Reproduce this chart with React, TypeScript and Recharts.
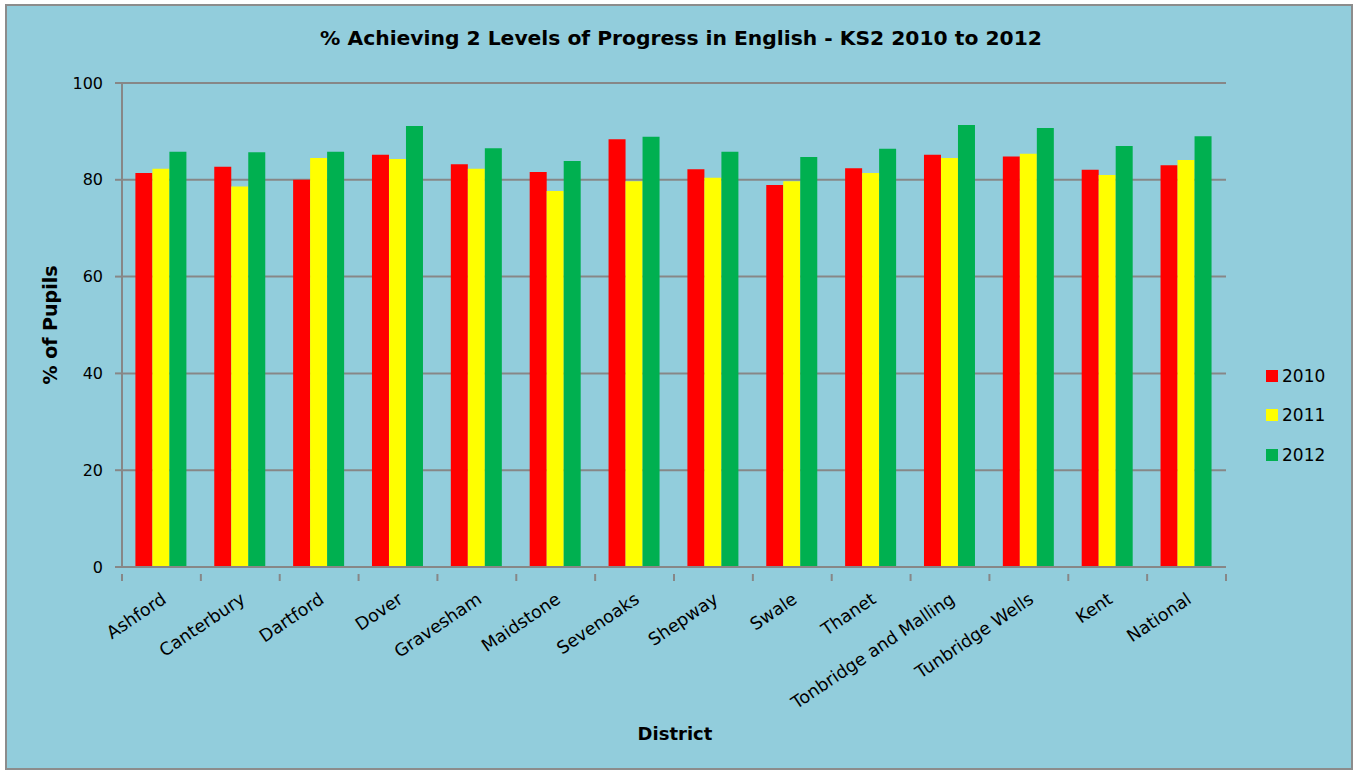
import React from 'react';
import { BarChart, Bar, XAxis, YAxis, CartesianGrid } from 'recharts';

const categories = [
  'Ashford',
  'Canterbury',
  'Dartford',
  'Dover',
  'Gravesham',
  'Maidstone',
  'Sevenoaks',
  'Shepway',
  'Swale',
  'Thanet',
  'Tonbridge and Malling',
  'Tunbridge Wells',
  'Kent',
  'National',
];
const pct2010 = [81.4, 82.7, 80.0, 85.2, 83.2, 81.6, 88.4, 82.2, 78.9, 82.4, 85.2, 84.8, 82.1, 83.0];
const pct2011 = [82.3, 78.6, 84.5, 84.3, 82.3, 77.7, 79.7, 80.4, 79.7, 81.4, 84.5, 85.4, 81.0, 84.1];
const pct2012 = [85.8, 85.7, 85.8, 91.1, 86.5, 83.9, 88.9, 85.8, 84.7, 86.4, 91.3, 90.7, 87.0, 89.0];
const yTicks = [0, 20, 40, 60, 80, 100];

const series = [
  { key: 'y2010', name: '2010', color: '#FF0000' },
  { key: 'y2011', name: '2011', color: '#FFFF00' },
  { key: 'y2012', name: '2012', color: '#00B050' },
];

const data = categories.map((district, i) => ({
  district,
  y2010: pct2010[i],
  y2011: pct2011[i],
  y2012: pct2012[i],
}));

const FONT = '"DejaVu Sans", Verdana, sans-serif';
const GRID = '#878787';

// rotated district name, plus the tick marks that sit between categories
function DistrictTick({ x, y, payload, index, visibleTicksCount }: any) {
  const half = payload.offset || 0;
  const px = x + 6;
  const py = y + 27;
  const isLast = index === visibleTicksCount - 1;
  return (
    <g>
      <line x1={x - half} x2={x - half} y1={y - 1} y2={y + 6} stroke={GRID} strokeWidth={2} />
      {isLast && <line x1={x + half} x2={x + half} y1={y - 1} y2={y + 6} stroke={GRID} strokeWidth={2} />}
      <text
        x={px}
        y={py}
        textAnchor="end"
        fontSize={17.5}
        fontFamily={FONT}
        fill="#000"
        transform={`rotate(-34 ${px} ${py})`}
      >
        {payload.value}
      </text>
    </g>
  );
}

export default function App() {
  return (
    <div style={{ position: 'absolute', left: 0, top: 0, width: 1356, height: 773, background: '#fff' }}>
      <div
        style={{
          position: 'absolute',
          left: 5,
          top: 4,
          width: 1344,
          height: 762,
          background: '#92CDDC',
          border: '2px solid #8c8c8c',
        }}
      />
      <div
        style={{
          position: 'absolute',
          left: 0,
          top: 26,
          width: 1362,
          textAlign: 'center',
          fontFamily: FONT,
          fontWeight: 'bold',
          fontSize: 20.3,
        }}
      >
        % Achieving 2 Levels of Progress in English - KS2 2010 to 2012
      </div>
      <div
        style={{
          position: 'absolute',
          left: 50,
          top: 325,
          transform: 'translate(-50%, -50%) rotate(-90deg)',
          whiteSpace: 'nowrap',
          fontFamily: FONT,
          fontWeight: 'bold',
          fontSize: 19,
        }}
      >
        % of Pupils
      </div>
      <div
        style={{
          position: 'absolute',
          left: 675,
          top: 733,
          transform: 'translate(-50%, -50%)',
          fontFamily: FONT,
          fontWeight: 'bold',
          fontSize: 18,
        }}
      >
        District
      </div>
      <div style={{ position: 'absolute', left: 1266, top: 356, fontFamily: FONT, fontSize: 17 }}>
        {series.map((s) => (
          <div key={s.key} style={{ display: 'flex', alignItems: 'center', height: 39.5 }}>
            <span style={{ width: 12, height: 12, background: s.color, display: 'inline-block', marginRight: 4 }} />
            <span>{s.name}</span>
          </div>
        ))}
      </div>
      <div style={{ position: 'absolute', left: 0, top: 0 }}>
        <BarChart
          width={1356}
          height={773}
          data={data}
          margin={{ top: 83, right: 130, bottom: 205, left: 0 }}
          barCategoryGap="17%"
          barGap={0}
        >
          <CartesianGrid vertical={false} stroke={GRID} strokeWidth={2} />
          <XAxis
            dataKey="district"
            height={1}
            interval={0}
            tickLine={false}
            axisLine={{ stroke: GRID, strokeWidth: 2 }}
            tick={<DistrictTick />}
          />
          <YAxis
            width={122}
            domain={[0, 100]}
            ticks={yTicks}
            interval={0}
            tickSize={7}
            tickMargin={12}
            tickLine={{ stroke: GRID, strokeWidth: 2 }}
            axisLine={{ stroke: GRID, strokeWidth: 2 }}
            tick={{ fill: '#000', fontSize: 16, fontFamily: FONT }}
          />
          {series.map((s) => (
            <Bar key={s.key} dataKey={s.key} name={s.name} fill={s.color} isAnimationActive={false} />
          ))}
        </BarChart>
      </div>
    </div>
  );
}
